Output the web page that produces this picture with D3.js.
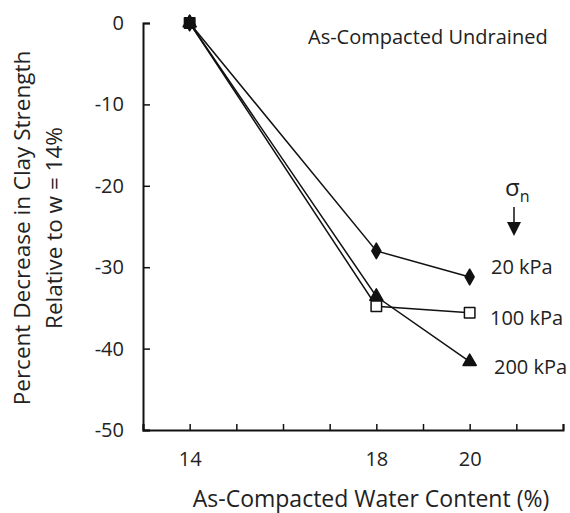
<!DOCTYPE html>
<html>
<head>
<meta charset="utf-8">
<script src="https://cdn.jsdelivr.net/npm/d3@7"></script>
<style>
  body { margin: 0; background: #fff; }
  text { font-family: "Open Sans", sans-serif; fill: #222; }
</style>
</head>
<body>
<div class="chart"></div>
<script>
// data
const waterContent = [14, 18, 20];
const kpa20 = [0, -28.0, -31.2];
const kpa100 = [0, -34.8, -35.6];
const kpa200 = [0, -33.6, -41.6];
const seriesNames = ["20 kPa", "100 kPa", "200 kPa"];
const xTickLabels = [14, 18, 20];
const yTicks = [0, -10, -20, -30, -40, -50];

const series = [
  { name: seriesNames[0], values: kpa20, symbol: d3.symbolDiamond },
  { name: seriesNames[1], values: kpa100, symbol: d3.symbolSquare },
  { name: seriesNames[2], values: kpa200, symbol: d3.symbolTriangle }
];

const width = 570, height = 513;
const svg = d3.select(".chart").append("svg")
  .attr("width", width).attr("height", height);

const x = d3.scaleLinear().domain([13, 22]).range([143, 563]);
const y = d3.scaleLinear().domain([-50, 0]).range([430, 23]);

// x axis, ticks inside
const xAxis = svg.append("g").attr("transform", "translate(0,430)")
  .call(d3.axisBottom(x).ticks(9).tickSizeInner(-6).tickSizeOuter(-6)
    .tickFormat(d => xTickLabels.includes(d) ? d : ""));
xAxis.select(".domain").attr("stroke", "#111").attr("stroke-width", 2);
xAxis.selectAll(".tick line").attr("stroke", "#111").attr("stroke-width", 1.5);
xAxis.selectAll(".tick text").attr("y", 22).attr("font-size", 20)
  .attr("font-family", "Open Sans").attr("fill", "#222");

// y axis, ticks inside, plain hyphen for minus
const yAxis = svg.append("g").attr("transform", "translate(143,0)")
  .call(d3.axisLeft(y).tickValues(yTicks).tickSizeInner(-7).tickSizeOuter(-7)
    .tickFormat(d => String(d)));
yAxis.select(".domain").attr("stroke", "#111").attr("stroke-width", 2);
yAxis.selectAll(".tick line").attr("stroke", "#111").attr("stroke-width", 1.5);
yAxis.selectAll(".tick text").attr("x", -19).attr("font-size", 20)
  .attr("font-family", "Open Sans").attr("fill", "#222");

// lines
const line = d3.line().x((d, i) => x(waterContent[i])).y(d => y(d));
svg.selectAll(".series").data(series).join("path")
  .attr("class", "series")
  .attr("d", d => line(d.values))
  .attr("fill", "none").attr("stroke", "#111").attr("stroke-width", 1.5);

// markers, squares drawn last so the black square sits on top at w = 14
[series[0], series[2], series[1]].forEach(s => {
  const size = s.symbol === d3.symbolSquare ? 110 : (s.symbol === d3.symbolTriangle ? 75 : 70);
  svg.selectAll(null).data(s.values).join("path")
    .attr("transform", (d, i) => `translate(${x(waterContent[i])},${y(d)})`)
    .attr("d", d3.symbol().type(s.symbol).size(size))
    .attr("fill", (d, i) => s.symbol === d3.symbolSquare && i > 0 ? "#fff" : "#111")
    .attr("stroke", "#111").attr("stroke-width", 1.5)
    .attr("stroke-linejoin", "round");
});

// series labels
const labelY = [274, 325, 374];
const labelX = [491, 490, 494];
series.forEach((s, i) => {
  svg.append("text").attr("x", labelX[i]).attr("y", labelY[i])
    .attr("font-size", 20).text(s.name);
});

// sigma n with arrow
const sig = svg.append("text").attr("x", 505).attr("y", 196).attr("font-size", 24);
sig.append("tspan").text("σ");
sig.append("tspan").attr("font-size", 16).attr("dy", 6).text("n");
svg.append("line").attr("x1", 514).attr("x2", 514).attr("y1", 207).attr("y2", 225)
  .attr("stroke", "#111").attr("stroke-width", 1.5);
svg.append("path").attr("d", "M507,222 L521,222 L514,236 Z").attr("fill", "#111");

svg.append("text").attr("x", 308).attr("y", 44).attr("font-size", 20)
  .text("As-Compacted Undrained");

// axis titles
svg.append("text").attr("x", 371).attr("y", 507).attr("text-anchor", "middle")
  .attr("font-size", 23).text("As-Compacted Water Content (%)");
const yt = svg.append("text").attr("transform", "translate(30,228) rotate(-90)")
  .attr("text-anchor", "middle").attr("font-size", 22.5);
yt.append("tspan").attr("x", 0).attr("y", 0).text("Percent Decrease in Clay Strength");
yt.append("tspan").attr("x", 0).attr("y", 32).text("Relative to w = 14%");
</script>
</body>
</html>
